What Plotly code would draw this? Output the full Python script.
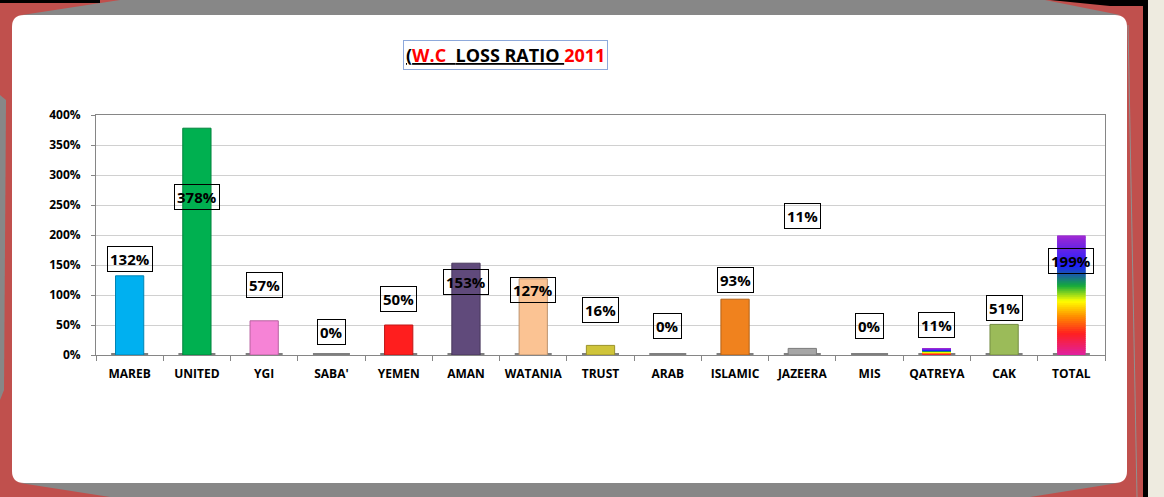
import plotly.graph_objects as go

categories = ["MAREB", "UNITED", "YGI", "SABA'", "YEMEN", "AMAN", "WATANIA", "TRUST",
              "ARAB", "ISLAMIC", "JAZEERA", "MIS", "QATREYA", "CAK", "TOTAL"]
loss_ratio = [1.32, 3.78, 0.57, 0.0, 0.50, 1.53, 1.27, 0.16, 0.0, 0.93, 0.11, 0.0, 0.11, 0.51, 1.99]
bar_colors = ["#00B0F0", "#00B050", "#F683D6", "#FFFFFF", "#FF1E1E", "#604A7B", "#FBC393",
              "#CFC43A", "#FFFFFF", "#F0821E", "#A6A6A6", "#FFFFFF", "rainbow", "#9BBB59", "rainbow"]
# label anchor heights (value-axis units) as placed in the original chart
label_y = [1.60, 2.63, 1.17, 0.38, 0.93, 1.22, 1.08, 0.75, 0.48, 1.25, 2.32, 0.48, 0.50, 0.78, 1.57]
y_ticks = [0, 0.5, 1.0, 1.5, 2.0, 2.5, 3.0, 3.5, 4.0]

rainbow = [(0.0, (224, 32, 160)), (0.18, (255, 32, 32)), (0.32, (255, 140, 0)),
           (0.45, (255, 255, 0)), (0.58, (20, 170, 60)), (0.75, (30, 30, 255)),
           (1.0, (160, 40, 210))]


def rainbow_at(t):
    for (t0, c0), (t1, c1) in zip(rainbow[:-1], rainbow[1:]):
        if t0 <= t <= t1:
            f = (t - t0) / (t1 - t0)
            return "rgb(%d,%d,%d)" % tuple(round(a + (b - a) * f) for a, b in zip(c0, c1))
    return "rgb(%d,%d,%d)" % rainbow[-1][1]


def darker(hexc, f=0.75):
    if not hexc.startswith("#"):
        return "rgba(0,0,0,0)"
    r, g, b = int(hexc[1:3], 16), int(hexc[3:5], 16), int(hexc[5:7], 16)
    return "rgb(%d,%d,%d)" % (r * f, g * f, b * f)


W, H = 1164, 497
L, R, T, B = 96, 1105, 115, 355


def px(x):
    return (x - L) / (R - L)


def py(y):
    return (B - y) / (B - T)


fig = go.Figure()

# base shadow under every bar
fig.add_trace(go.Bar(x=categories, y=[0.03] * len(categories), base=[0] * len(categories),
                     width=0.55, marker=dict(color="#7F7F7F", line=dict(width=0)),
                     hoverinfo="skip", showlegend=False))

main_colors = [c if c.startswith("#") else "rgba(0,0,0,0)" for c in bar_colors]
main_lines = [darker(c) if (c.startswith("#") and v > 0) else "rgba(0,0,0,0)"
              for c, v in zip(bar_colors, loss_ratio)]
fig.add_trace(go.Bar(x=categories, y=loss_ratio, width=0.42,
                     marker=dict(color=main_colors, line=dict(color=main_lines, width=1)),
                     showlegend=False))

# rainbow gradient bars built as thin stacked slices of the value
N = 60
sx, sy, sb, sc = [], [], [], []
for cat, v, c in zip(categories, loss_ratio, bar_colors):
    if c == "rainbow":
        for i in range(N):
            base = v * i / N
            sx.append(cat)
            sy.append(min(2.5 * v / N, v - base))
            sb.append(base)
            sc.append(rainbow_at((i + 0.5) / N))
fig.add_trace(go.Bar(x=sx, y=sy, base=sb, width=0.42,
                     marker=dict(color=sc, line=dict(width=0)),
                     hoverinfo="skip", showlegend=False))

for cat, v, ly in zip(categories, loss_ratio, label_y):
    fig.add_annotation(x=cat, y=ly, xref="x", yref="y", text="<b>%d%%</b>" % round(v * 100),
                       showarrow=False, font=dict(family="Open Sans", size=15, color="black"),
                       bgcolor="rgba(255,255,255,0.0)", bordercolor="black", borderwidth=1,
                       borderpad=2, xanchor="center", yanchor="middle")

# decorative frame
shapes = []
shapes.append(dict(type="rect", xref="paper", yref="paper", x0=px(0), x1=px(W), y0=py(H), y1=py(0),
                   fillcolor="#C0504D", line=dict(width=0), layer="below"))
shapes.append(dict(type="path", xref="paper", yref="paper",
                   path="M %f %f L %f %f L %f %f L %f %f Z" % (px(22), py(15), px(120), py(0),
                                                               px(1045), py(0), px(1120), py(15)),
                   fillcolor="#878787", line=dict(width=0), layer="below"))
shapes.append(dict(type="path", xref="paper", yref="paper",
                   path="M %f %f L %f %f L %f %f L %f %f Z" % (px(20), py(483), px(1118), py(483),
                                                               px(1030), py(497), px(110), py(497)),
                   fillcolor="#878787", line=dict(width=0), layer="below"))
shapes.append(dict(type="path", xref="paper", yref="paper",
                   path="M %f %f L %f %f L %f %f L %f %f Z" % (px(0), py(95), px(6), py(100),
                                                               px(4), py(390), px(0), py(400)),
                   fillcolor="#878787", line=dict(width=0), layer="below"))
shapes.append(dict(type="rect", xref="paper", yref="paper", x0=px(0), x1=px(100), y0=py(3), y1=py(0),
                   fillcolor="black", line=dict(width=0), layer="below"))
shapes.append(dict(type="path", xref="paper", yref="paper",
                   path="M %f %f L %f %f L %f %f L %f %f Z" % (px(1050), py(0), px(1147), py(0),
                                                               px(1147), py(6), px(1110), py(6)),
                   fillcolor="black", line=dict(width=0), layer="below"))
shapes.append(dict(type="rect", xref="paper", yref="paper", x0=px(1143), x1=px(1148), y0=py(H), y1=py(0),
                   fillcolor="black", line=dict(width=0), layer="below"))
shapes.append(dict(type="rect", xref="paper", yref="paper", x0=px(1148), x1=px(W), y0=py(H), y1=py(0),
                   fillcolor="#EEEBE0", line=dict(width=0), layer="below"))
shapes.append(dict(type="line", xref="paper", yref="paper", x0=px(1128), x1=px(1137), y0=py(25), y1=py(497),
                   line=dict(color="#909090", width=1), layer="below"))
# white rounded panel
x0, x1, y0, y1, r = 12, 1127, 15, 483, 12
path = ("M %f %f L %f %f Q %f %f %f %f L %f %f Q %f %f %f %f L %f %f Q %f %f %f %f L %f %f Q %f %f %f %f Z" % (
    px(x0 + r), py(y0), px(x1 - r), py(y0), px(x1), py(y0), px(x1), py(y0 + r),
    px(x1), py(y1 - r), px(x1), py(y1), px(x1 - r), py(y1),
    px(x0 + r), py(y1), px(x0), py(y1), px(x0), py(y1 - r),
    px(x0), py(y0 + r), px(x0), py(y0), px(x0 + r), py(y0)))
shapes.append(dict(type="path", xref="paper", yref="paper", path=path,
                   fillcolor="white", line=dict(width=0), layer="below"))
fig.update_layout(shapes=shapes)

title_html = ("<b><u>(<span style='color:#FF0000'>W.C&nbsp;&nbsp;</span>LOSS RATIO&nbsp;</u>"
              "<span style='color:#FF0000'>2011</span></b>")
fig.add_annotation(x=px(505), y=py(55), xref="paper", yref="paper", text=title_html,
                   showarrow=False, font=dict(family="Open Sans", size=18, color="black"),
                   xanchor="center", yanchor="middle",
                   bgcolor="white", bordercolor="#8EA9DB", borderwidth=1, borderpad=2)

fig.update_layout(
    width=W, height=H,
    margin=dict(l=L, r=W - R, t=T, b=H - B, autoexpand=False),
    paper_bgcolor="#C0504D", plot_bgcolor="rgba(0,0,0,0)",
    barmode="overlay", bargap=0.2,
    font=dict(family="Open Sans", color="black"),
)
fig.update_yaxes(range=[0, 4.0], tickvals=y_ticks, tickformat=".0%",
                 tickfont=dict(family="Open Sans", size=12, color="black", weight="bold"),
                 showgrid=True, gridcolor="#D0D0D0", gridwidth=1,
                 showline=True, linecolor="#868686", linewidth=1, mirror=True,
                 ticks="outside", ticklen=4, tickcolor="#868686", zeroline=False,
                 ticklabelstandoff=8)
fig.update_xaxes(tickfont=dict(family="Open Sans", size=12, color="black", weight="bold"),
                 showline=True, linecolor="#868686", linewidth=1, mirror=True,
                 ticks="outside", tickson="boundaries", ticklen=5, tickcolor="#868686",
                 showgrid=False, ticklabelstandoff=8)

fig.write_html("out.html", config={"displayModeBar": False},
               post_script="document.body.style.margin='0';document.body.style.overflow='hidden';")
